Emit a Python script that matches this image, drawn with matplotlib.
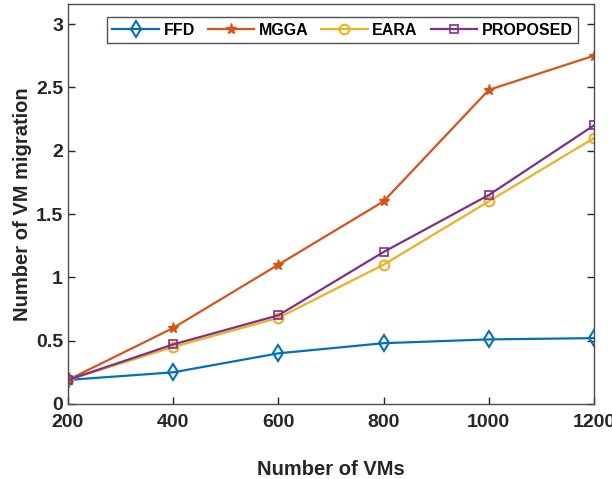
import numpy as np
import matplotlib.pyplot as plt

plt.rcParams['font.family'] = ['Liberation Sans', 'DejaVu Sans']

# data
vms = [200, 400, 600, 800, 1000, 1200]
ffd = [0.19, 0.25, 0.40, 0.48, 0.51, 0.52]
mgga = [0.19, 0.60, 1.10, 1.60, 2.48, 2.75]
eara = [0.19, 0.45, 0.68, 1.10, 1.60, 2.10]
proposed = [0.19, 0.47, 0.70, 1.20, 1.65, 2.20]

fig = plt.figure(figsize=(6.12, 4.79), dpi=100)
ax = fig.add_axes([0.111, 0.1566, 0.8596, 0.835])

ax.plot(vms, ffd, color='#0072BD', lw=1.6, marker='d', ms=8, mfc='none', mew=1.5, label='FFD')
ax.plot(vms, mgga, color='#D95319', lw=1.6, marker='*', ms=8, label='MGGA')
ax.plot(vms, eara, color='#EDB120', lw=1.6, marker='o', ms=7, mfc='none', mew=1.5, label='EARA')
ax.plot(vms, proposed, color='#7E2F8E', lw=1.6, marker='s', ms=6, mfc='none', mew=1.2, label='PROPOSED')

ax.set_xlim(200, 1200)
ax.set_ylim(0, 3.158)
ax.set_xticks(vms)
ax.set_yticks([0, 0.5, 1, 1.5, 2, 2.5, 3])
ax.set_yticklabels(['0', '0.5', '1', '1.5', '2', '2.5', '3'])
ax.tick_params(direction='in', length=5, width=1, colors='#262626', labelsize=14, right=True, top=False)
ax.tick_params(axis='x', pad=7)
for lab in ax.get_xticklabels() + ax.get_yticklabels():
    lab.set_fontweight('bold')
for s in ax.spines.values():
    s.set_color('#4d4d4d')
    s.set_linewidth(1)

ax.set_xlabel('Number of VMs', fontsize=14.5, fontweight='bold', color='#262626', labelpad=21)
ax.set_ylabel('Number of VM migration', fontsize=14.5, fontweight='bold', color='#262626', labelpad=3)

leg = ax.legend(ncol=4, loc='upper center', bbox_to_anchor=(0.522, 0.975), frameon=True, fancybox=False,
                edgecolor='#262626', handlelength=2.9, columnspacing=0.8, handletextpad=0.3,
                borderpad=0.35, borderaxespad=0.2, prop={'weight': 'bold', 'size': 11.5})
leg.get_frame().set_linewidth(1)

fig.savefig('out.png', dpi=100)
